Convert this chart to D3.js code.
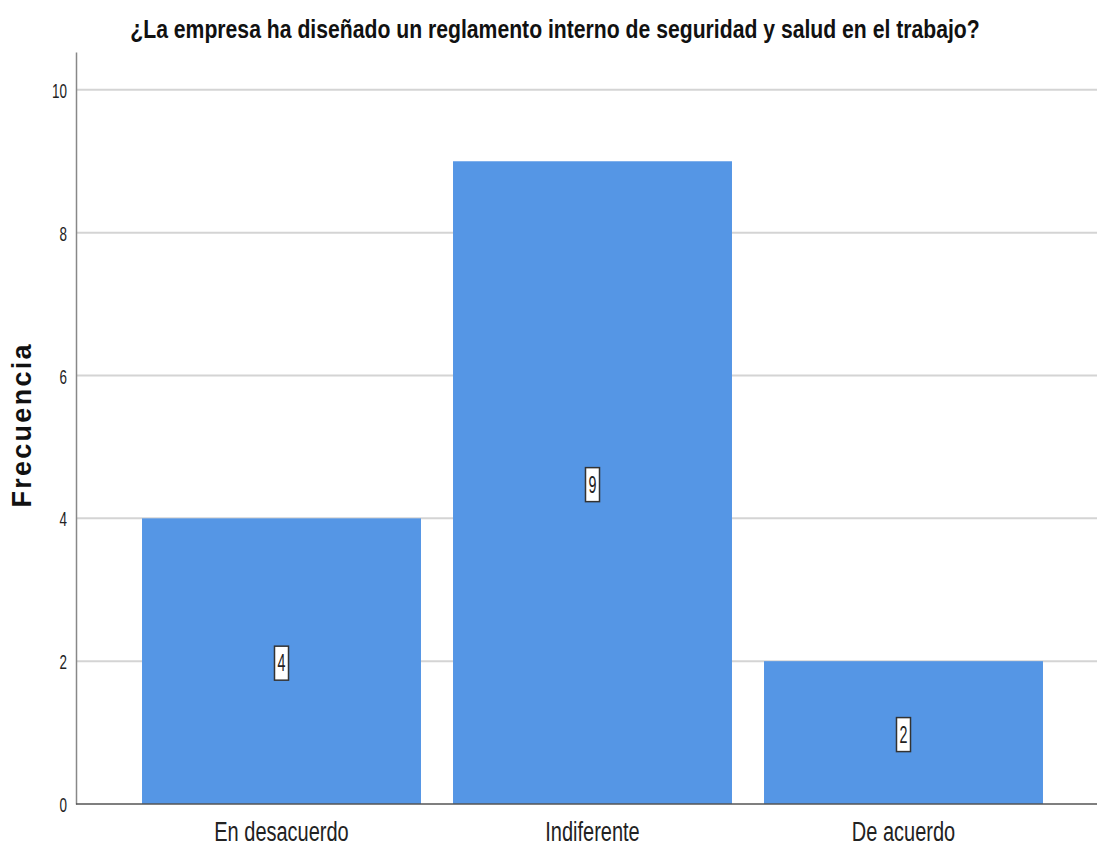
<!DOCTYPE html>
<html><head><meta charset="utf-8">
<script src="https://cdn.jsdelivr.net/npm/d3@7"></script>
<style>
body{margin:0;background:#fff;}
text{font-family:"Liberation Sans",Arial,sans-serif;}
</style></head>
<body>
<svg id="c" width="1099" height="848"></svg>
<script>
const categories = ["En desacuerdo", "Indiferente", "De acuerdo"];
const values = [4, 9, 2];
const yTicks = [0, 2, 4, 6, 8, 10];
const title = "¿La empresa ha diseñado un reglamento interno de seguridad y salud en el trabajo?";
const yTitle = "Frecuencia";

const svg = d3.select("#c");
const plotLeft = 76, plotRight = 1097, plotTop = 52, plotBottom = 804;

function condense(sel, f) {
  sel.each(function () {
    const l = this.getComputedTextLength();
    d3.select(this).attr("textLength", l * f).attr("lengthAdjust", "spacingAndGlyphs");
  });
}

const y = d3.scaleLinear().domain([0, 10.53]).range([plotBottom, plotTop]);
const x = d3.scaleBand().domain(categories).range([126, 1059]).paddingInner(0.103).paddingOuter(0.0515);

// gridlines
svg.append("g").selectAll("line").data(yTicks.filter(d => d > 0)).join("line")
  .attr("x1", plotLeft).attr("x2", plotRight)
  .attr("y1", d => y(d)).attr("y2", d => y(d))
  .attr("stroke", "#d4d4d4").attr("stroke-width", 2);

// bars
svg.append("g").selectAll("rect").data(values).join("rect")
  .attr("x", (d, i) => x(categories[i]))
  .attr("width", x.bandwidth())
  .attr("y", d => y(d))
  .attr("height", d => y(0) - y(d))
  .attr("fill", "#5596e5");

// y axis
const yAxis = d3.axisLeft(y).tickValues(yTicks).tickSize(0).tickPadding(9).tickFormat(d3.format("d"));
const gy = svg.append("g").attr("transform", `translate(${plotLeft},0)`).call(yAxis);
gy.select(".domain").attr("stroke", "#888").attr("stroke-width", 1.5);
gy.selectAll("text").attr("font-size", 21).attr("fill", "#222")
  .style("font-family", '"Liberation Sans",Arial,sans-serif').attr("dy", "0.36em");
condense(gy.selectAll("text"), 0.64);

// x axis baseline
svg.append("line").attr("x1", plotLeft).attr("x2", plotRight)
  .attr("y1", plotBottom).attr("y2", plotBottom)
  .attr("stroke", "#555").attr("stroke-width", 1.5);

// x labels
const xAxis = d3.axisBottom(x).tickSize(0).tickPadding(17.5);
const gx = svg.append("g").attr("transform", `translate(0,${plotBottom})`).call(xAxis);
gx.select(".domain").remove();
gx.selectAll("text").attr("font-size", 27).attr("fill", "#222")
  .style("font-family", '"Liberation Sans",Arial,sans-serif');
condense(gx.selectAll("text"), 0.74);

// value labels
const lbl = svg.append("g").selectAll("g").data(values).join("g")
  .attr("transform", (d, i) => `translate(${x(categories[i]) + x.bandwidth() / 2},${y(d / 2) + 2})`);
lbl.append("rect").attr("x", -7).attr("y", -17).attr("width", 14).attr("height", 34)
  .attr("fill", "#fff").attr("stroke", "#333").attr("stroke-width", 1.5);
const vt = lbl.append("text").text(d => d).attr("text-anchor", "middle").attr("dy", "0.36em")
  .attr("font-size", 23).attr("fill", "#222");
condense(vt, 0.62);

// title (condensed via horizontal scale)
const tt = svg.append("text").attr("x", 0).attr("y", 0).attr("text-anchor", "middle")
  .attr("font-size", 25).attr("font-weight", "bold").attr("fill", "#111")
  .text(title);
const natural = tt.node().getComputedTextLength();
tt.attr("transform", `translate(555,38) scale(${850 / natural},1)`);

// y title
svg.append("text").attr("transform", "translate(31,426) rotate(-90)")
  .attr("text-anchor", "middle").attr("font-size", 27).attr("font-weight", "bold")
  .attr("fill", "#111")
  .attr("textLength", 163).attr("lengthAdjust", "spacing")
  .text(yTitle);
</script>
</body></html>
